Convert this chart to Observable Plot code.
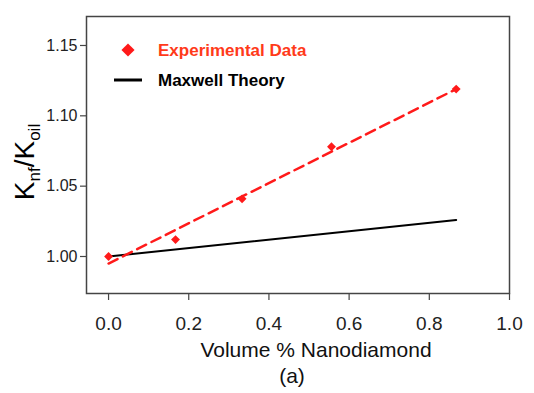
<!DOCTYPE html>
<html>
<head>
<meta charset="utf-8">
<script src="https://cdn.jsdelivr.net/npm/d3@7"></script>
<script src="https://cdn.jsdelivr.net/npm/@observablehq/plot@0.6"></script>
<style>
  html, body { margin: 0; padding: 0; background: #fff; }
  #chart svg { display: block; }
</style>
</head>
<body>
<div id="chart"></div>
<script>
// Data
const volume = [0, 0.167, 0.333, 0.556, 0.867];
const experimental = [1.000, 1.012, 1.041, 1.078, 1.119];
const fitVolume = [0, 0.867];
const fitValue = [0.995, 1.119];
const maxwellVolume = [0, 0.867];
const maxwellValue = [1.000, 1.026];
const xTicks = [0, 0.2, 0.4, 0.6, 0.8, 1.0];
const yTicks = [1.00, 1.05, 1.10, 1.15];
const legendLabels = ["Experimental Data", "Maxwell Theory"];
const xTitle = "Volume % Nanodiamond";
const caption = "(a)";

const expData = volume.map((v, i) => ({v, k: experimental[i]}));
const fitData = fitVolume.map((v, i) => ({v, k: fitValue[i]}));
const maxData = maxwellVolume.map((v, i) => ({v, k: maxwellValue[i]}));

const RED = "#ff1a1a";
const LEGEND_RED = "#ff3a1a";
const FONT = "Liberation Sans, Arial, sans-serif";

function legendMark(index, scales, values, dims) {
  const g = d3.create("svg:g").attr("font-family", FONT).attr("font-weight", "bold")
    .attr("font-size", 17).attr("text-anchor", "start");
  const x0 = dims.marginLeft;
  const y0 = dims.marginTop;
  g.append("path")
    .attr("d", d3.symbol(d3.symbolDiamond2, 110)())
    .attr("transform", `translate(${x0 + 42},${y0 + 34})`)
    .attr("fill", RED);
  g.append("text").attr("x", x0 + 72).attr("y", y0 + 34).attr("dy", "0.36em")
    .attr("fill", LEGEND_RED).text(legendLabels[0]);
  g.append("line").attr("x1", x0 + 28).attr("x2", x0 + 56)
    .attr("y1", y0 + 64).attr("y2", y0 + 64)
    .attr("stroke", "#000").attr("stroke-width", 3);
  g.append("text").attr("x", x0 + 72).attr("y", y0 + 64).attr("dy", "0.36em")
    .attr("fill", "#000").text(legendLabels[1]);
  return g.node();
}

function yLabelMark(index, scales, values, dims) {
  const t = d3.create("svg:text")
    .attr("transform", `translate(34,162) rotate(-90)`)
    .attr("text-anchor", "middle")
    .attr("font-family", FONT)
    .attr("font-size", 28)
    .attr("fill", "#000");
  t.append("tspan").text("K");
  t.append("tspan").attr("font-size", 17).attr("dy", 6).text("nf");
  t.append("tspan").attr("dy", -6).text("/K");
  t.append("tspan").attr("font-size", 17).attr("dy", 6).text("oil");
  return t.node();
}

const chart = Plot.plot({
  width: 534,
  height: 393,
  marginLeft: 86,
  marginRight: 25,
  marginTop: 16,
  marginBottom: 100,
  style: {fontFamily: FONT, background: "#fff"},
  x: {domain: [-0.055, 1.0], ticks: xTicks},
  y: {domain: [0.9737, 1.1706], ticks: yTicks},
  marks: [
    Plot.frame({stroke: "#444", strokeWidth: 1.5}),
    Plot.axisX({ticks: xTicks, tickFormat: d3.format(".1f"), tickSize: 7, tickPadding: 16,
      fontSize: 19, stroke: "#444", strokeWidth: 1.2, fill: "#222", label: null}),
    Plot.axisY({ticks: yTicks, tickFormat: d3.format(".2f"), tickSize: 6, tickPadding: 3,
      fontSize: 16, stroke: "#444", strokeWidth: 1.2, fill: "#222", label: null}),
    Plot.line(maxData, {x: "v", y: "k", stroke: "#000", strokeWidth: 2}),
    Plot.line(fitData, {x: "v", y: "k", stroke: RED, strokeWidth: 2.5, strokeDasharray: "10,6"}),
    Plot.dot(expData, {x: "v", y: "k", symbol: "diamond2", r: 4, fill: RED, stroke: "none"}),
    Plot.text([xTitle], {frameAnchor: "bottom", text: d => d, dy: 63, dx: 18, fontSize: 21, fill: "#111"}),
    Plot.text([caption], {frameAnchor: "bottom", text: d => d, dy: 89, dx: -6, fontSize: 21, fill: "#111"}),
    legendMark,
    yLabelMark
  ]
});
document.getElementById("chart").appendChild(chart);
</script>
</body>
</html>
